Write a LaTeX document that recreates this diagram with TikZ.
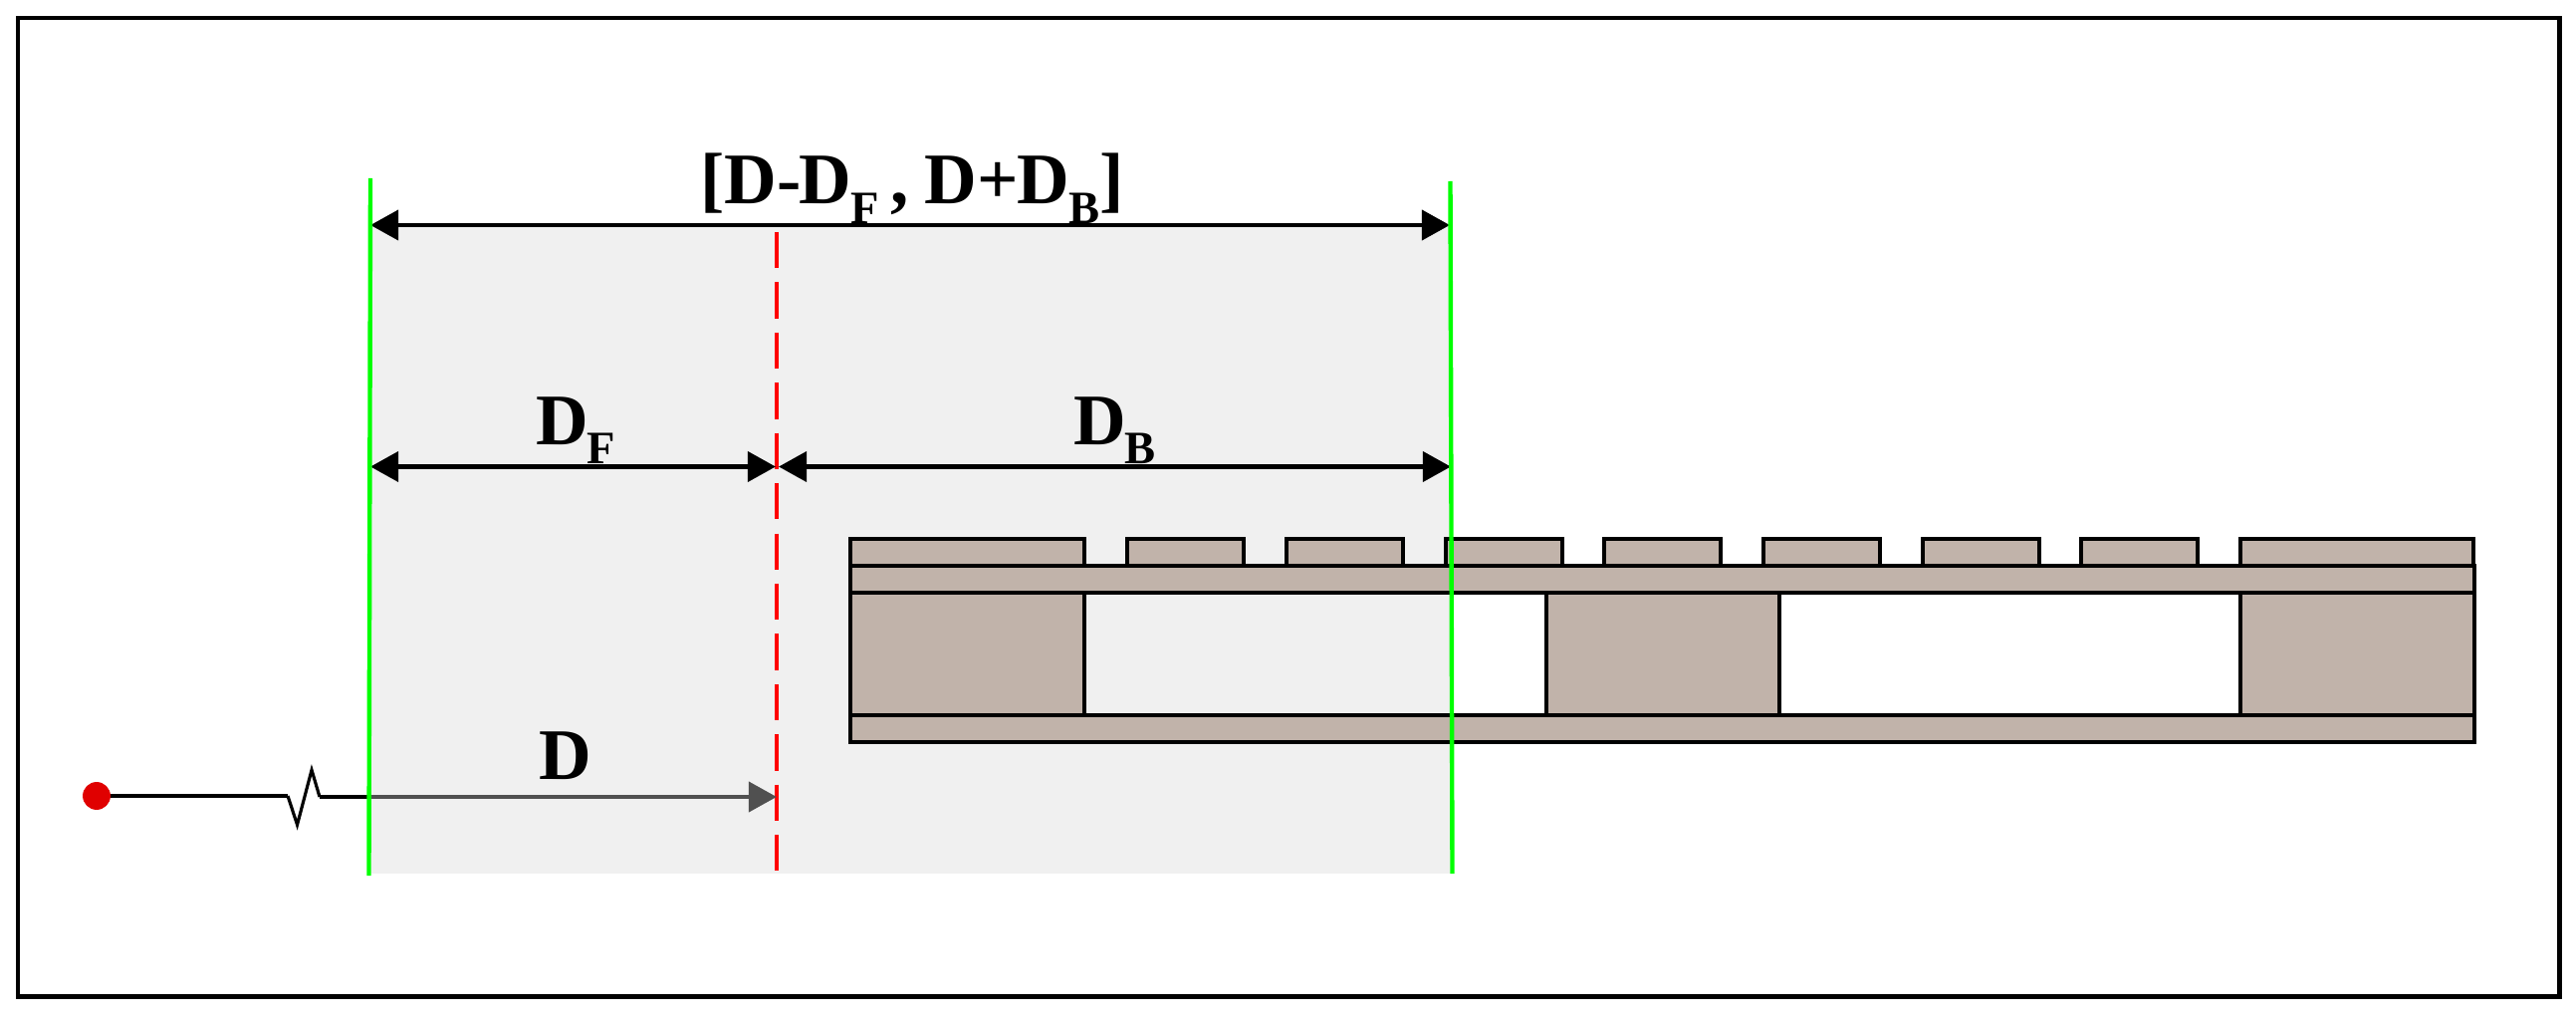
\documentclass[tikz,border=0pt]{standalone}
\usepackage{fontspec}
\setmainfont{Liberation Serif}
\usetikzlibrary{arrows.meta}
\definecolor{sandcol}{HTML}{C1B3AA}
\definecolor{bandcol}{HTML}{F0F0F0}
\definecolor{distcol}{HTML}{505050}
\newcommand{\dsub}[1]{\kern-0.6pt\raisebox{-11pt}{\fontsize{26.5}{26.5}\selectfont #1}}
\tikzset{
    dimarrow/.style={line width=2.6pt,{Triangle[length=16pt,width=17pt]}-{Triangle[length=16pt,width=17pt]}},
    greenline/.style={draw=green,line width=2.5pt},
    redline/.style={draw=red,line width=2pt,dash pattern=on 20.7pt off 8pt},
    block/.style={draw=black,fill=sandcol,line width=2.6pt},
    dimlabel/.style={anchor=base west,inner sep=0pt,font=\fontsize{41.5}{41.5}\selectfont\bfseries}
}
\begin{document}
\begin{tikzpicture}[x=0.02cm,y=-0.02cm]
        \useasboundingbox (0,0) rectangle (2587,1027);
        % Cornice
        \draw[line width=2.4pt] (18,18) rectangle (2570.5,1000.5);
        % Banda
        \fill[bandcol] (371,226) rectangle (1458,877);
        % Patch
        \foreach \x/\w in {854/1089,1132/1249,1292/1409,1452/1569,1611/1728,1771/1888,1931/2048,2090/2207,2250/2484}
            \draw[block] (\x,568) |- (\w,541) -- (\w,568);
        % Pilastri
        \foreach \x/\w in {854/1089,1553/1787,2250/2485}
            \draw[block] (\x,595) rectangle (\w,718);
        % Strati
        \draw[block] (854,568) rectangle (2485,595);
        \draw[block] (854,718) rectangle (2485,745);
        % Punti
        \coordinate (gla) at (372,179);
        \coordinate (glb) at (370.5,879);
        \coordinate (gra) at (1456.5,182);
        \coordinate (grb) at (1458.5,877);
        \coordinate (rda) at (780,233);
        \coordinate (rdb) at (780,877);
        \coordinate (rngl) at (372,226);
        \coordinate (rngr) at (1456,226);
        \coordinate (midl) at (372,468.5);
        \coordinate (midc) at (779,468.5);
        \coordinate (midd) at (782,468.5);
        \coordinate (midr) at (1457,468.5);
        \coordinate (wira) at (289,799);
        \coordinate (wirb) at (298.5,828);
        \coordinate (wirc) at (313,773);
        \coordinate (wird) at (321,800);
        \coordinate (wire) at (371,800);
        \coordinate (dist) at (780,800);
        % Tratteggio
        \draw[redline] (rda) -- (rdb);
        % Frecce
        \draw[dimarrow] (rngl) -- (rngr);
        \draw[dimarrow] (midl) -- (midc);
        \draw[dimarrow] (midd) -- (midr);
        % Sorgente
        \node[circle,fill={rgb,255:red,224;green,0;blue,0},inner sep=0pt,minimum size=15.9pt] (src) at (97,799) {};
        \draw[line width=2.6pt] (src) -- (wira);
        \draw[line width=1.8pt] (wira) -- (wirb) -- (wirc) -- (wird);
        \draw[line width=2.6pt] (wird) -- (wire);
        \draw[draw=distcol,line width=2.6pt,-{Triangle[length=16pt,width=17pt]}] (wire) -- (dist);
        % Verdi
        \draw[greenline] (gla) -- (glb);
        \draw[greenline] (gra) -- (grb);
        % Annotazioni
        \node[dimlabel] (lblrng) at (703,205) {[D-\kern-1pt D\dsub{F}\kern6.5pt, \kern-1pt D+\kern-1pt D\dsub{B}]};
        \node[dimlabel] (lblfr) at (538,446.5) {D\dsub{F}};
        \node[dimlabel] (lblbk) at (1078,446.5) {D\dsub{B}};
        \node[dimlabel] (lbldi) at (541,782) {D};
    \end{tikzpicture}
\end{document}
